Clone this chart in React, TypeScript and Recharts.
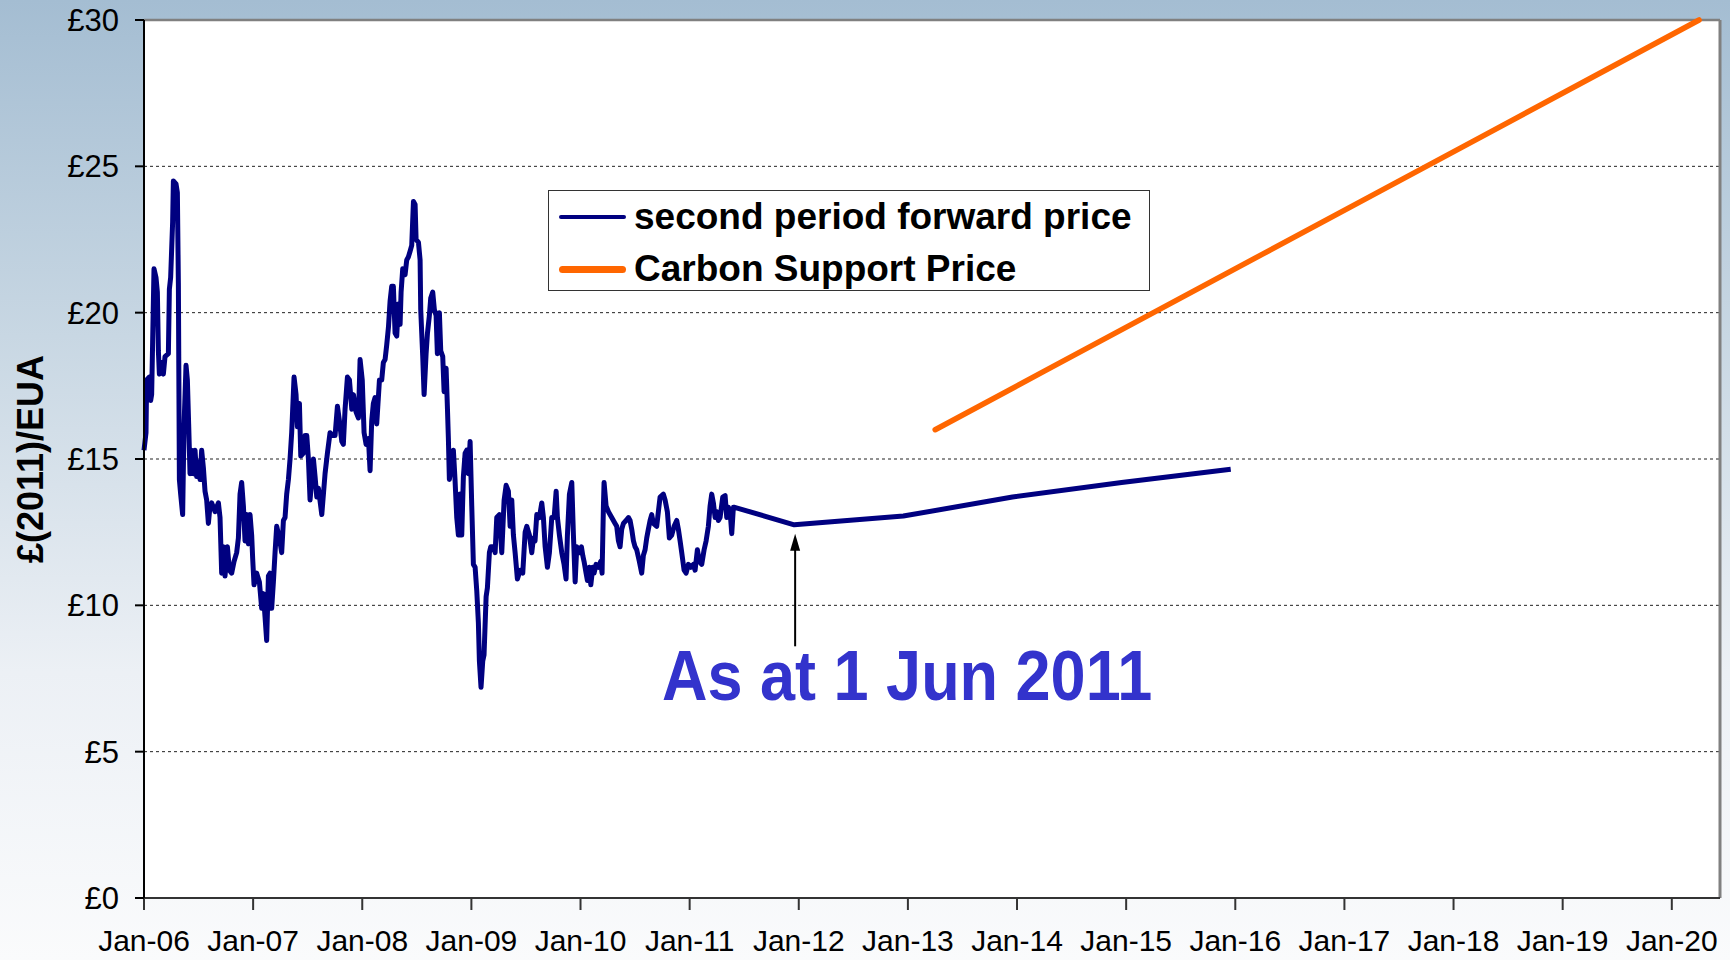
import { LineChart, Line, XAxis, YAxis, CartesianGrid, ReferenceLine } from 'recharts'

// ─── Data (x = months since Jan-06, y = £(2011)/EUA) ─────────────────────────

const spot2006: [number, number][] = [
  [0.0, 15.3], [0.22, 15.9], [0.29, 17.7], [0.59, 17.8], [0.73, 17.0], [0.84, 17.2], [0.95, 19.0],
  [1.1, 21.5], [1.32, 21.2], [1.47, 20.7], [1.58, 18.7], [1.69, 17.9], [1.94, 18.3], [2.13, 17.9],
  [2.31, 18.5], [2.68, 18.6], [2.79, 20.8], [2.93, 21.2], [3.15, 23.1], [3.23, 24.5], [3.52, 24.4],
  [3.67, 24.1], [3.78, 21.0], [3.89, 14.3], [4.03, 13.8], [4.25, 13.1], [4.4, 16.1], [4.62, 18.2],
  [4.77, 17.7], [4.91, 16.2], [5.06, 14.5], [5.24, 15.3], [5.43, 14.5], [5.61, 15.3], [5.79, 14.4],
  [5.98, 14.9], [6.16, 14.3], [6.34, 15.3], [6.53, 14.7], [6.71, 13.9], [6.89, 13.6], [7.08, 12.8],
  [7.26, 13.4], [7.44, 13.5], [7.81, 13.2], [8.18, 13.5], [8.36, 13.0], [8.54, 11.1], [8.73, 12.0],
  [8.91, 11.0], [9.17, 12.0], [9.39, 11.2], [9.64, 11.1], [9.9, 11.5], [10.19, 11.8], [10.38, 12.3],
  [10.56, 13.8], [10.74, 14.2], [10.93, 13.4], [11.11, 12.2], [11.29, 13.1], [11.48, 12.1],
  [11.66, 13.1], [11.84, 12.4],
]

const spot2007: [number, number][] = [
  [11.95, 11.6], [12.1, 10.7], [12.39, 11.1], [12.69, 10.8], [12.94, 9.9], [13.13, 10.4], [13.31, 9.6],
  [13.49, 8.8], [13.68, 11.0], [13.86, 11.1], [14.04, 9.9], [14.23, 10.8], [14.41, 11.8], [14.59, 12.7],
  [14.89, 12.3], [15.14, 11.8], [15.33, 12.9], [15.51, 13.0], [15.69, 13.8], [15.88, 14.3], [16.06, 15.0],
  [16.24, 15.9], [16.5, 17.8], [16.72, 17.2], [16.87, 16.1], [17.09, 16.9], [17.24, 15.1], [17.53, 15.2],
  [17.71, 15.8], [17.9, 15.8], [18.08, 15.0], [18.26, 13.6], [18.45, 14.3], [18.63, 15.0], [18.81, 14.4],
  [19.0, 13.7], [19.18, 14.0], [19.55, 13.1], [19.73, 13.8], [19.91, 14.5], [20.17, 15.2], [20.46, 15.9],
  [20.76, 15.8], [21.01, 15.8], [21.27, 16.8], [21.49, 16.3], [21.75, 15.6], [21.92, 15.5], [22.11, 16.7],
  [22.37, 17.8], [22.59, 17.7], [22.85, 16.7], [23.03, 17.2], [23.32, 16.6], [23.58, 16.4], [23.76, 18.4],
]

const spot2008: [number, number][] = [
  [24.0, 17.7], [24.2, 15.9], [24.42, 15.5], [24.68, 15.7], [24.86, 14.6], [25.04, 16.3], [25.22, 16.9],
  [25.41, 17.1], [25.59, 16.2], [25.77, 17.1], [25.89, 17.7], [26.14, 17.7], [26.32, 18.3], [26.51, 18.4],
  [26.69, 18.9], [26.88, 19.5], [27.06, 20.4], [27.24, 20.9], [27.42, 20.9], [27.61, 19.3], [27.79, 19.2],
  [27.97, 20.3], [28.16, 19.6], [28.27, 20.7], [28.45, 21.5], [28.71, 21.3], [28.89, 21.8], [29.07, 21.9],
  [29.26, 22.1], [29.44, 22.3], [29.63, 23.8], [29.81, 23.7], [29.92, 22.5], [30.18, 22.4], [30.36, 21.8],
  [30.43, 20.1], [30.65, 18.5], [30.8, 17.2], [31.02, 18.6], [31.17, 19.3], [31.38, 19.9], [31.53, 20.5],
  [31.75, 20.7], [31.93, 20.1], [32.12, 19.9], [32.26, 18.6], [32.48, 20.0], [32.63, 18.7], [32.85, 18.5],
  [33.0, 17.3], [33.22, 18.1], [33.36, 16.8], [33.47, 15.7], [33.58, 14.3], [33.84, 14.9], [34.02, 15.3],
  [34.2, 14.3], [34.39, 13.0], [34.57, 12.4], [34.76, 13.8], [34.94, 12.4], [35.12, 14.4], [35.31, 15.2],
  [35.49, 15.3], [35.67, 14.5], [35.86, 15.6],
]

const spot2009: [number, number][] = [
  [36.04, 13.4], [36.22, 11.4], [36.41, 11.3], [36.59, 10.5], [36.77, 9.4], [36.88, 8.1], [37.06, 7.2],
  [37.25, 8.1], [37.39, 8.3], [37.62, 10.3], [37.76, 10.6], [37.98, 11.8], [38.13, 12.0], [38.42, 12.0],
  [38.61, 11.8], [38.79, 13.0], [39.08, 13.1], [39.34, 11.8], [39.6, 13.6], [39.82, 14.1], [40.07, 13.9],
  [40.26, 12.7], [40.44, 13.6], [40.62, 12.4], [40.81, 11.8], [41.06, 10.9], [41.36, 11.2], [41.65, 11.1],
  [41.91, 12.5], [42.09, 12.7], [42.38, 12.4], [42.64, 11.8], [42.82, 12.3], [43.0, 12.2], [43.19, 13.1],
  [43.48, 13.0], [43.74, 13.5], [43.92, 13.0], [44.11, 12.0], [44.36, 11.3], [44.58, 11.8], [44.84, 13.0],
  [45.1, 13.0], [45.32, 13.9], [45.46, 13.0], [45.68, 12.4], [45.94, 11.8], [46.19, 11.4], [46.41, 10.9],
  [46.56, 12.4], [46.78, 13.8], [47.04, 14.2], [47.22, 12.4], [47.41, 10.8], [47.59, 12.0], [47.88, 11.8],
]

const spot2010: [number, number][] = [
  [48.1, 12.0], [48.25, 11.7], [48.39, 11.5], [48.61, 11.1], [48.76, 10.85], [48.98, 11.3], [49.13, 10.7],
  [49.35, 11.3], [49.49, 11.1], [49.71, 11.4], [49.97, 11.3], [50.22, 11.5], [50.37, 11.1], [50.52, 13.4],
  [50.59, 14.2], [50.81, 13.4], [51.07, 13.2], [51.43, 13.0], [51.8, 12.8], [51.98, 12.7], [52.17, 12.2],
  [52.35, 12.0], [52.53, 12.6], [52.72, 12.8], [53.01, 12.9], [53.27, 13.0], [53.45, 12.9], [53.63, 12.6],
  [53.82, 12.2], [54.0, 12.0], [54.18, 11.9], [54.47, 11.5], [54.73, 11.1], [54.91, 11.7], [55.1, 11.9],
  [55.28, 12.3], [55.46, 12.6], [55.65, 12.9], [55.83, 13.1], [56.01, 12.8], [56.38, 12.7], [56.56, 13.2],
  [56.75, 13.7], [57.11, 13.8], [57.3, 13.6], [57.55, 13.2], [57.77, 12.3], [58.03, 12.4], [58.29, 12.7],
  [58.58, 12.9], [58.76, 12.6], [58.95, 12.2], [59.13, 11.8], [59.39, 11.2], [59.61, 11.1], [59.86, 11.4],
]

const spot2011: [number, number][] = [
  [60.12, 11.3], [60.41, 11.4], [60.6, 11.2], [60.85, 11.9], [61.07, 11.5], [61.33, 11.4], [61.59, 11.9],
  [61.81, 12.2], [62.06, 12.7], [62.25, 13.4], [62.43, 13.8], [62.61, 13.5], [62.8, 13.0], [62.98, 13.2],
  [63.16, 12.9], [63.35, 13.0], [63.64, 13.7], [63.9, 13.75], [64.08, 13.0], [64.26, 13.35], [64.45, 13.2],
  [64.63, 12.45], [64.81, 13.35],
]

// forward curve as at 1 Jun 2011 (Dec contracts)
const forwardCurve: [number, number][] = [
  [64.95, 13.35], [71.5, 12.75], [83.5, 13.05], [95.5, 13.7], [107.5, 14.2], [119.5, 14.65],
]

// carbon support price, Apr-13 to Apr-20
const supportPrice: [number, number][] = [
  [87, 16], [99, 18], [111, 20], [123, 22], [135, 24], [147, 26], [159, 28], [171, 30],
]

const yearTicks = [0, 12, 24, 36, 48, 60, 72, 84, 96, 108, 120, 132, 144, 156, 168]
const yearLabels = [
  'Jan-06', 'Jan-07', 'Jan-08', 'Jan-09', 'Jan-10', 'Jan-11', 'Jan-12', 'Jan-13',
  'Jan-14', 'Jan-15', 'Jan-16', 'Jan-17', 'Jan-18', 'Jan-19', 'Jan-20',
]
const priceTicks = [0, 5, 10, 15, 20, 25, 30]

const X_MAX = 173.3
const AS_AT = 71.6

const forwardPrice = [
  ...spot2006, ...spot2007, ...spot2008, ...spot2009, ...spot2010, ...spot2011, ...forwardCurve,
].map(([m, p]) => ({ m, price: p }))
const floorPrice = supportPrice.map(([m, p]) => ({ m, price: p }))

const FONT = '"Liberation Sans", Arial, sans-serif'
const NAVY = '#000080'
const ORANGE = '#FF6600'

// ─── Annotation: arrow + "As at" text ────────────────────────────────────────

function AsAtArrow(props: any) {
  const { x1, y1, x2, y2 } = props
  const x = x2
  const top = Math.min(y1, y2)
  const bottom = Math.max(y1, y2)
  return (
    <g>
      <line x1={x} y1={bottom} x2={x} y2={top + 14} stroke="#000" strokeWidth={2} />
      <polygon points={`${x},${top} ${x - 5},${top + 17} ${x + 5},${top + 17}`} fill="#000" />
      <text
        transform={`translate(${x + 112},${bottom + 54}) scale(0.9,1)`}
        textAnchor="middle"
        fontFamily={FONT}
        fontWeight="bold"
        fontSize={70}
        fill="#3333CC"
      >
        As at 1 Jun 2011
      </text>
    </g>
  )
}

function AxisTitle(props: any) {
  const vb = props.viewBox || { x: 0, y: 20, width: 144, height: 878 }
  const cx = vb.x + 43
  const cy = vb.y + vb.height / 2
  return (
    <text
      x={cx}
      y={cy}
      transform={`rotate(-90, ${cx}, ${cy})`}
      textAnchor="middle"
      fontFamily={FONT}
      fontWeight="bold"
      fontSize={36}
      fill="#000"
    >
      £(2011)/EUA
    </text>
  )
}

// ─── Component ────────────────────────────────────────────────────────────────

export default function App() {
  const legendRow = (color: string, thick: number, label: string) => (
    <div style={{ display: 'flex', alignItems: 'center', height: 52 }}>
      <div
        style={{
          width: 67,
          height: thick,
          background: color,
          borderRadius: thick / 2,
          marginRight: 8,
        }}
      />
      <span style={{ fontSize: 37, fontWeight: 'bold', color: '#000', whiteSpace: 'nowrap' }}>
        {label}
      </span>
    </div>
  )

  return (
    <div
      style={{
        position: 'fixed',
        left: 0,
        top: 0,
        width: 1730,
        height: 960,
        fontFamily: FONT,
        background: 'linear-gradient(to bottom, #A4BDD2 0%, #C8D7E3 35%, #ECF0F5 70%, #FAFBFC 100%)',
      }}
    >
      <LineChart width={1730} height={960} margin={{ top: 20, right: 10, bottom: 0, left: 0 }}>
        <CartesianGrid
          vertical={false}
          stroke="#222"
          strokeDasharray="3 3"
          fill="#fff"
          fillOpacity={1}
        />
        <XAxis
          dataKey="m"
          type="number"
          domain={[0, X_MAX]}
          ticks={yearTicks}
          tickFormatter={(v: number) => yearLabels[yearTicks.indexOf(v)] ?? ''}
          height={62}
          tickSize={12}
          tickMargin={20}
          interval={0}
          stroke="#333"
          strokeWidth={2}
          tick={{ fill: '#000', fontSize: 30, fontFamily: FONT }}
        />
        <YAxis
          type="number"
          domain={[0, 30]}
          ticks={priceTicks}
          tickFormatter={(v: number) => `£${v}`}
          width={144}
          tickSize={9}
          tickMargin={16}
          interval={0}
          stroke="#000"
          strokeWidth={2}
          tick={{ fill: '#000', fontSize: 31, fontFamily: FONT }}
          label={{ content: AxisTitle }}
        />
        <ReferenceLine y={30} stroke="#808080" strokeWidth={2.5} />
        <ReferenceLine x={X_MAX} stroke="#808080" strokeWidth={3} />
        <Line
          data={forwardPrice}
          dataKey="price"
          name="second period forward price"
          stroke={NAVY}
          strokeWidth={5}
          strokeLinejoin="round"
          dot={false}
          isAnimationActive={false}
        />
        <Line
          data={floorPrice}
          dataKey="price"
          name="Carbon Support Price"
          stroke={ORANGE}
          strokeWidth={5.5}
          strokeLinecap="round"
          dot={false}
          isAnimationActive={false}
        />
        <ReferenceLine
          segment={[
            { x: AS_AT, y: 8.6 },
            { x: AS_AT, y: 12.45 },
          ]}
          shape={AsAtArrow}
        />
      </LineChart>

      {/* legend box */}
      <div
        style={{
          position: 'absolute',
          left: 548,
          top: 190,
          width: 590,
          height: 99,
          background: '#fff',
          border: '1.5px solid #333',
          padding: '0 0 0 10px',
          boxSizing: 'content-box',
        }}
      >
        {legendRow(NAVY, 4, 'second period forward price')}
        {legendRow(ORANGE, 7, 'Carbon Support Price')}
      </div>
    </div>
  )
}
